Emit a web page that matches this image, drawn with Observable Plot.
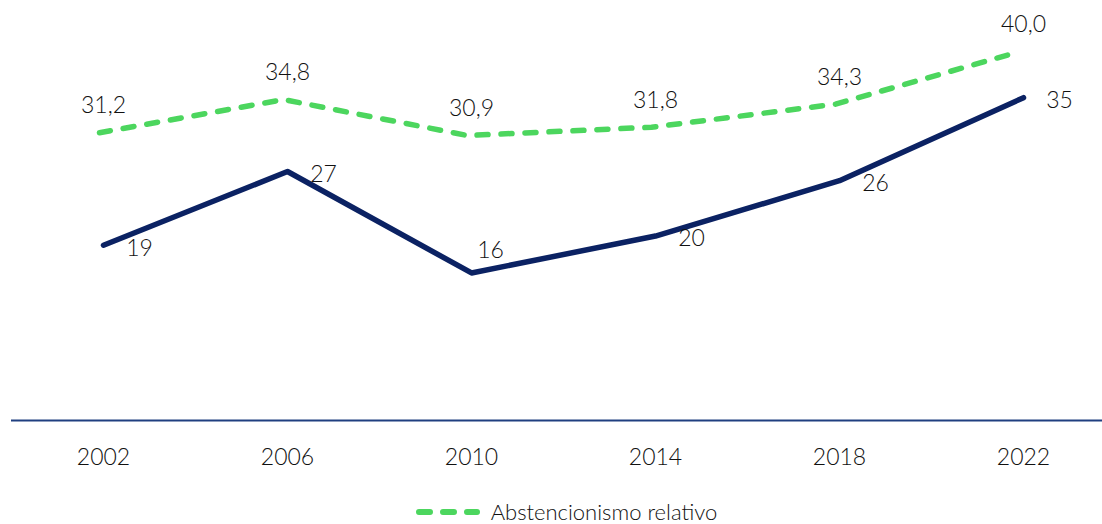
<!DOCTYPE html>
<html>
<head>
<meta charset="utf-8">
<script src="https://cdn.jsdelivr.net/npm/d3@7"></script>
<script src="https://cdn.jsdelivr.net/npm/@observablehq/plot@0.6"></script>
<style>
  html, body { margin: 0; padding: 0; background: #fff; }
  body { width: 1102px; height: 524px; overflow: hidden; font-family: Lato, "Noto Sans", sans-serif; }
  #legend { display: flex; align-items: center; justify-content: center; gap: 10px; margin-top: 18px; margin-left: 30px; font-size: 22px; font-weight: 300; color: #111111; }
</style>
</head>
<body>
<div id="chart"></div>
<div id="legend"></div>
<script>
const years = ["2002", "2006", "2010", "2014", "2018", "2022"];
const absoluto = [19, 27, 16, 20, 26, 35];
const relativo = [31.2, 34.8, 30.9, 31.8, 34.3, 40.0];
const legendLabel = "Abstencionismo relativo";

const navy = "#0b2263";
const green = "#4cd65e";
const textColor = "#111111";

const dataA = years.map((y, i) => ({year: y, value: absoluto[i], i}));
const dataR = years.map((y, i) => ({year: y, value: relativo[i], i}));
const fmt = d3.format(".1f");

const chart = Plot.plot({
  width: 1102,
  height: 480,
  marginLeft: 11,
  marginRight: 0,
  marginTop: 5,
  marginBottom: 60,
  style: {fontFamily: "Lato, 'Noto Sans', sans-serif", fontSize: "23px", fontWeight: 300, color: textColor, background: "#fff"},
  x: {type: "point", domain: years, range: [103, 1023], padding: 0, label: null},
  y: {domain: [0, 45], axis: null},
  marks: [
    Plot.ruleY([0], {stroke: "#1f3f80", strokeWidth: 2}),
    Plot.axisX({tickSize: 0, tickPadding: 28, fontSize: 23, fontWeight: 300, fill: textColor, label: null}),
    Plot.line(dataR, {x: "year", y: "value", stroke: green, strokeWidth: 5.5, strokeDasharray: "11,13", strokeLinecap: "round", strokeLinejoin: "round", dx: -4}),
    Plot.line(dataA, {x: "year", y: "value", stroke: navy, strokeWidth: 5.5, strokeLinecap: "round", strokeLinejoin: "round"}),
    Plot.text(dataR, {x: "year", y: "value", text: d => fmt(d.value).replace(".", ","), dy: -27, fill: textColor, fontSize: 23, fontWeight: 300}),
    Plot.text(dataA.filter(d => d.i !== 2), {x: "year", y: "value", text: d => String(d.value), dx: 36, dy: 3, fill: textColor, fontSize: 23, fontWeight: 300}),
    Plot.text(dataA.filter(d => d.i === 2), {x: "year", y: "value", text: d => String(d.value), dx: 19, dy: -22, fill: textColor, fontSize: 23, fontWeight: 300})
  ]
});
document.getElementById("chart").appendChild(chart);

const legend = document.getElementById("legend");
legend.innerHTML = `<svg width="66" height="12"><line x1="4" y1="6" x2="62" y2="6" stroke="${green}" stroke-width="6" stroke-dasharray="11,13" stroke-linecap="round"/></svg><span>${legendLabel}</span>`;
</script>
</body>
</html>
